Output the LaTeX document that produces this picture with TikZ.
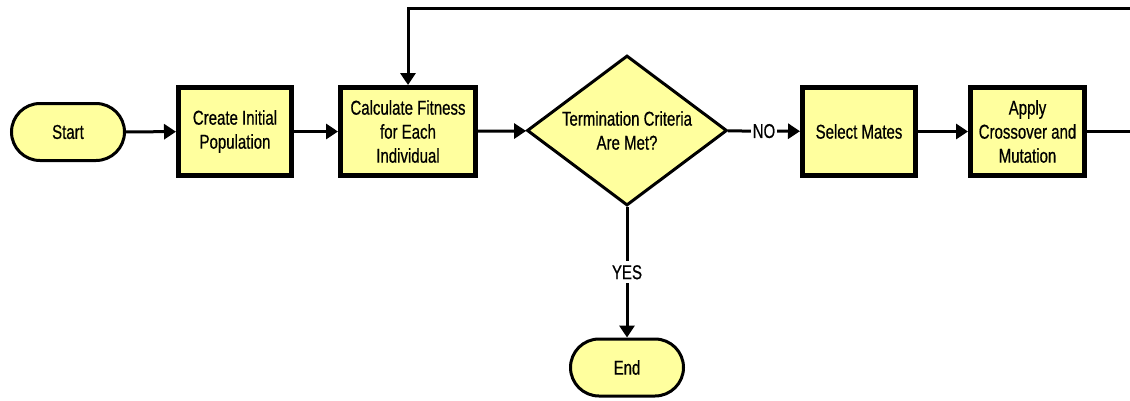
\documentclass[tikz,border=0pt]{standalone}
\usepackage{fontspec}
\newfontfamily\flowfont[FakeStretch=0.75,FakeBold=0.6]{Liberation Sans}
\usetikzlibrary{shapes.geometric,shapes.misc,arrows.meta}
\definecolor{boxfill}{RGB}{255,255,158}
\begin{document}
\begin{tikzpicture}[x=1pt,y=-1pt,
  every node/.style={font=\flowfont\fontsize{20}{24}\selectfont, text=black},
  proc/.style={draw, line width=5pt, fill=boxfill, align=center, minimum width=113pt, minimum height=88pt, inner sep=0pt},
  term/.style={draw, line width=3pt, fill=boxfill, rounded rectangle, minimum width=113pt, minimum height=57pt, inner sep=0pt},
  dec/.style={draw, line width=3pt, fill=boxfill, diamond, aspect=1.33, minimum width=200pt, minimum height=150pt, inner sep=0pt, align=center},
  flow/.style={line width=3pt, -{Triangle[length=12pt,width=15pt]}},
  lbl/.style={fill=white, inner sep=1.5pt}
]
\fill[white] (0,0) rectangle (1130,400);
\useasboundingbox (0,0) rectangle (1130,400);
\node[term] (start) at (68,132) {Start};
\node[proc] (init) at (235,131.5) {Create Initial\\Population};
\node[proc, minimum width=135pt] (fit) at (408,131.5) {Calculate Fitness\\for Each\\Individual};
\node[dec] (crit) at (627,130.5) {Termination Criteria\\Are Met?};
\node[proc] (mates) at (859,131.5) {Select Mates};
\node[proc, minimum width=114pt] (xover) at (1027.5,131.5) {Apply\\Crossover and\\Mutation};
\node[term] (end) at (627,367.5) {End};
\coordinate (c1) at (1140,131.5);
\coordinate (c2) at (1140,8.5);
\draw[flow] (start) -- (init);
\draw[flow] (init) -- (fit);
\draw[flow] (fit) -- (crit);
\draw[flow] (crit) -- node[lbl] {NO} (mates);
\draw[flow] (mates) -- (xover);
\draw[flow] (crit) -- node[lbl, inner sep=4pt] {YES} (end);
\draw[flow] (xover.east) -- (c1) -- (c2) -- (fit.north |- c2) -- (fit.north);
\end{tikzpicture}
\end{document}
